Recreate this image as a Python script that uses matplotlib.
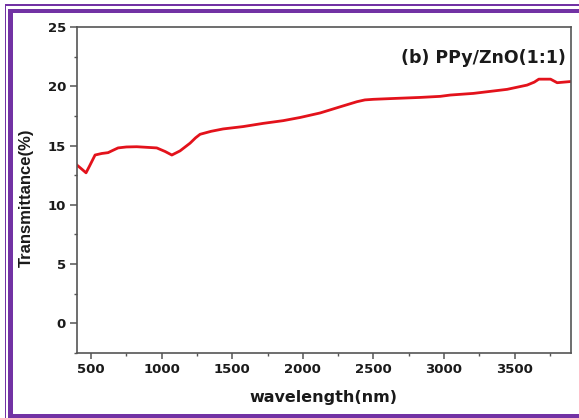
import matplotlib
matplotlib.use('Agg')
import matplotlib.pyplot as plt
from matplotlib.patches import Rectangle
from matplotlib.ticker import MultipleLocator

# transmittance spectrum, PPy/ZnO 1:1
wavelength = [400, 435, 464, 490, 528, 575, 620, 655, 691, 750, 823, 965, 1024,
              1072, 1130, 1201, 1240, 1272, 1350, 1435, 1577, 1719, 1861, 1982,
              2123, 2265, 2384, 2440, 2500, 2641, 2833, 2974, 3045, 3209, 3447,
              3589, 3640, 3672, 3755, 3802, 3897]
transmittance = [13.35, 13.0, 12.7, 13.3, 14.2, 14.33, 14.4, 14.6, 14.8, 14.88,
                 14.9, 14.8, 14.5, 14.2, 14.55, 15.2, 15.65, 15.95, 16.2, 16.4,
                 16.6, 16.87, 17.1, 17.37, 17.75, 18.27, 18.7, 18.85, 18.9,
                 18.97, 19.06, 19.15, 19.26, 19.4, 19.74, 20.1, 20.35, 20.6,
                 20.6, 20.3, 20.4]

W, H = 579, 418
PURPLE = '#7232a4'

fig = plt.figure(figsize=(W / 100, H / 100), dpi=100)
fig.patch.set_facecolor('white')

def px_rect(x0, y0, x1, y1):
    # rectangle given in pixel coords (origin top-left)
    return Rectangle((x0 / W, 1 - y1 / H), (x1 - x0) / W, (y1 - y0) / H,
                     transform=fig.transFigure, facecolor=PURPLE,
                     edgecolor='none', zorder=10)

# double purple frame: thin outer line, thick inner band
for r in [px_rect(4.5, 4.5, W, 6.2), px_rect(4.5, 4.5, 6.2, H),
          px_rect(8, 8.5, W, 13), px_rect(8, 8.5, 12.7, H),
          px_rect(8, 414, W, H)]:
    fig.add_artist(r)

ax = fig.add_axes([77 / W, 1 - 353 / H, (571 - 77) / W, (353 - 27) / H])
ax.plot(wavelength, transmittance, color='#e3121b', lw=2.0)

ax.set_xlim(400, 3900)
ax.set_ylim(-2.5, 25)
ax.xaxis.set_major_locator(MultipleLocator(500))
ax.xaxis.set_minor_locator(MultipleLocator(250))
ax.yaxis.set_major_locator(MultipleLocator(5))
ax.yaxis.set_minor_locator(MultipleLocator(2.5))

for s in ax.spines.values():
    s.set_color('#555555')
    s.set_linewidth(1.2)

ax.tick_params(axis='both', which='both', direction='out', color='#555555',
               labelcolor='#1a1a1a', top=False, right=False)
ax.tick_params(axis='x', which='major', length=4, width=1.1, pad=3)
ax.tick_params(axis='y', which='major', length=5, width=1.1, pad=3)
ax.tick_params(axis='both', which='minor', length=2.5, width=1.0)
for lbl in ax.get_xticklabels() + ax.get_yticklabels():
    lbl.set_fontweight('bold')
    lbl.set_fontsize(9.5)
    lbl.set_family('DejaVu Sans')

ax.set_xlabel('wavelength(nm)', fontsize=11.5, fontweight='bold',
              family='DejaVu Sans', color='#1a1a1a')
ax.xaxis.set_label_coords(0.498, -0.135)
ax.xaxis.label.set_verticalalignment('center')

ax.set_ylabel('Transmittance(%)', fontsize=12, fontweight='bold',
              family='Liberation Sans', color='#1a1a1a')
ax.yaxis.set_label_coords(-0.103, 0.477)
ax.yaxis.label.set_verticalalignment('center')

ax.text(0.99, 0.905, '(b) PPy/ZnO(1:1)', transform=ax.transAxes,
        ha='right', va='center', fontsize=12.5, fontweight='bold',
        family='DejaVu Sans', color='#1a1a1a')

fig.savefig('out.png', dpi=100)
